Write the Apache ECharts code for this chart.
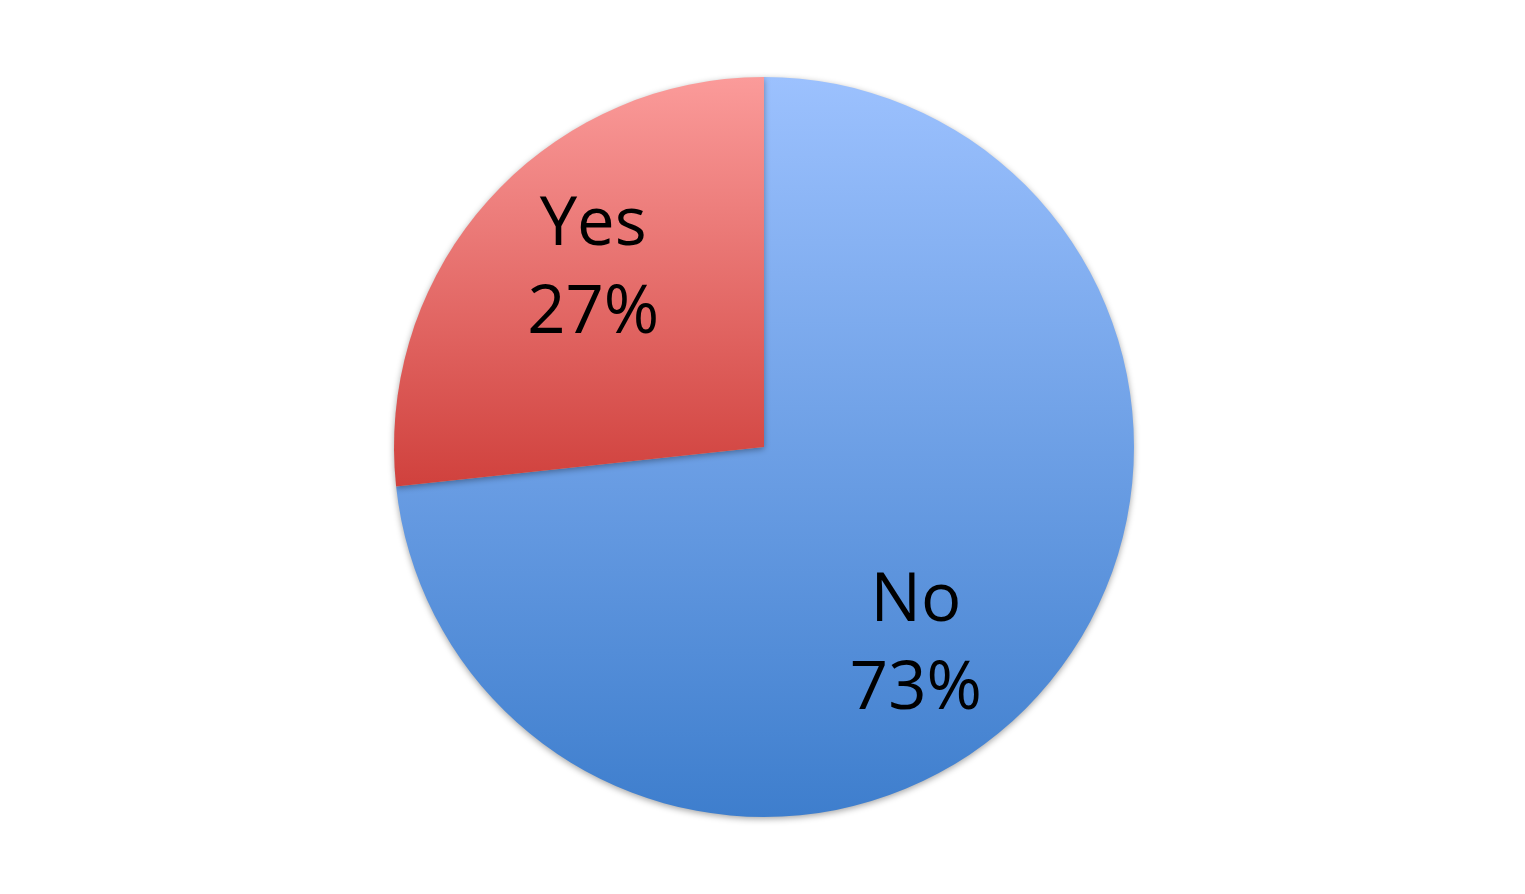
<!DOCTYPE html>
<html>
<head>
<meta charset="utf-8">
<title>Yes / No</title>
<script src="https://cdn.jsdelivr.net/npm/echarts@6/dist/echarts.min.js"></script>
<style>
  html, body { margin: 0; padding: 0; background: #fff; }
  #chart { width: 1525px; height: 894px; }
</style>
</head>
<body>
<div id="chart"></div>
<script>
// answers, clockwise from 12 o'clock
const categories = ['No', 'Yes'];
const shares = [73.3, 26.7];

// top / bottom gradient colours per slice
const sliceColors = {
    No: ['#9cc1fe', '#3e7ecd'],
    Yes: ['#fb9b9a', '#d0413d']
};
// nudge the labels to where the original put them
const labelOffsets = {
    No: [12, 73],
    Yes: [-31, -51]
};

function grad(pair) {
    return new echarts.graphic.LinearGradient(0, 0, 0, 1, [
        { offset: 0, color: pair[0] },
        { offset: 1, color: pair[1] }
    ]);
}

const chart = echarts.init(document.getElementById('chart'));

const data = categories.map((name, i) => ({
    name: name,
    value: shares[i],
    itemStyle: { color: grad(sliceColors[name]) },
    label: { offset: labelOffsets[name] }
}));

chart.setOption({
    backgroundColor: '#ffffff',
    animation: false,
    series: [{
        type: 'pie',
        center: [764, 447],
        radius: 370,
        startAngle: 90,
        clockwise: true,
        avoidLabelOverlap: false,
        itemStyle: {
            borderWidth: 0,
            shadowColor: 'rgba(0,0,0,0.35)',
            shadowBlur: 6,
            shadowOffsetY: 2
        },
        label: {
            show: true,
            position: 'inside',
            formatter: p => p.name + '\n' + Math.round(p.percent) + '%',
            fontFamily: 'Open Sans',
            fontSize: 67,
            lineHeight: 88,
            color: '#000',
            align: 'center'
        },
        labelLine: { show: false },
        emphasis: { disabled: true },
        data: data
    }]
});
</script>
</body>
</html>
